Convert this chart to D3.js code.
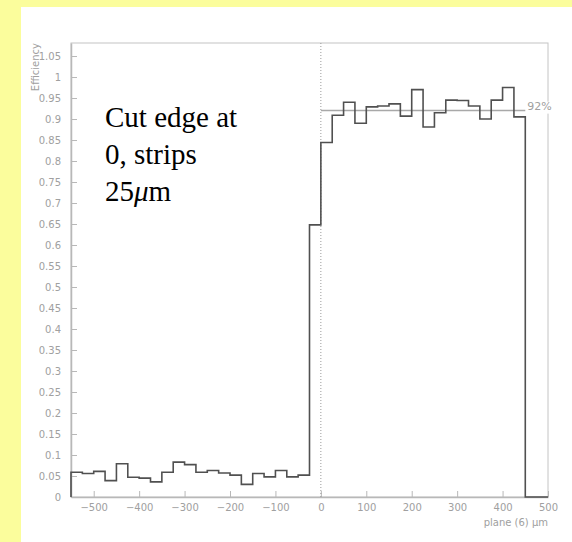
<!DOCTYPE html>
<html>
<head>
<meta charset="utf-8">
<script src="https://cdn.jsdelivr.net/npm/d3@7"></script>
<style>
  body { margin: 0; background: #fbfd9c; }
  svg { display: block; }
</style>
</head>
<body>
<div id="chart"></div>
<script>
// Histogram bins: lower edges (um), 25 um wide, and efficiency per bin.
const binStart = -550;
const binWidth = 25;
const efficiency = [
  0.059, 0.056, 0.061, 0.039, 0.079, 0.047, 0.045, 0.036, 0.059, 0.083,
  0.077, 0.059, 0.063, 0.057, 0.052, 0.030, 0.056, 0.048, 0.063, 0.048,
  0.052, 0.648,
  0.844, 0.909, 0.940, 0.890, 0.929, 0.931, 0.936, 0.907, 0.970, 0.881,
  0.915, 0.945, 0.944, 0.931, 0.900, 0.945, 0.975, 0.905,
  0, 0
];
const fitLevel = 0.92;
const fitRange = [0, 450];
const xTicks = [-500, -400, -300, -200, -100, 0, 100, 200, 300, 400, 500];
const yTicks = d3.range(0, 22).map(i => i * 0.05);
const noteLines = ["Cut edge at", "0, strips"];

const svgWidth = 572, svgHeight = 542;
const plot = { left: 71, right: 548, top: 43, bottom: 497 };

const svg = d3.select("#chart")
  .append("svg")
  .attr("width", svgWidth)
  .attr("height", svgHeight);

// white panel on the yellow page
svg.append("rect")
  .attr("x", 21).attr("y", 7)
  .attr("width", svgWidth - 21).attr("height", svgHeight - 7)
  .attr("fill", "#fff");

const x = d3.scaleLinear().domain([-550, 500]).range([plot.left, plot.right]);
const y = d3.scaleLinear().domain([0, 1.081]).range([plot.bottom, plot.top]);

// frame
svg.append("rect")
  .attr("x", plot.left).attr("y", plot.top)
  .attr("width", plot.right - plot.left).attr("height", plot.bottom - plot.top)
  .attr("fill", "none")
  .attr("stroke", "#c4c4c4")
  .attr("stroke-width", 1);

// axes, ticks pointing inwards
const xAxis = svg.append("g")
  .attr("transform", `translate(0, ${plot.bottom})`)
  .call(d3.axisBottom(x).tickValues(xTicks).tickSizeInner(-6).tickSizeOuter(0).tickPadding(7));

const yAxis = svg.append("g")
  .attr("transform", `translate(${plot.left}, 0)`)
  .call(d3.axisLeft(y).tickValues(yTicks).tickFormat(d => +d.toFixed(2))
    .tickSizeInner(-6).tickSizeOuter(0).tickPadding(10));

[xAxis, yAxis].forEach(g => {
  g.select(".domain").attr("stroke", "#b8b8b8").attr("stroke-width", 1.5);
  g.selectAll(".tick line").attr("stroke", "#b8b8b8");
  g.selectAll("text")
    .attr("fill", "#a0a0a0")
    .attr("font-family", "DejaVu Sans")
    .attr("font-size", "10px");
});

// dotted line at the cut edge
svg.append("line")
  .attr("x1", x(0)).attr("x2", x(0))
  .attr("y1", plot.top).attr("y2", plot.bottom)
  .attr("stroke", "#9a9a9a")
  .attr("stroke-width", 1)
  .attr("stroke-dasharray", "1,2");

// fitted plateau
svg.append("line")
  .attr("x1", x(fitRange[0])).attr("x2", x(fitRange[1]))
  .attr("y1", y(fitLevel)).attr("y2", y(fitLevel))
  .attr("stroke", "#a8a8a8")
  .attr("stroke-width", 1.5);

svg.append("rect")
  .attr("x", x(fitRange[1]) + 1).attr("y", y(fitLevel) - 9)
  .attr("width", 28).attr("height", 12)
  .attr("fill", "#fff");

svg.append("text")
  .attr("x", x(fitRange[1]) + 2)
  .attr("y", y(fitLevel) - 0.5)
  .attr("fill", "#a0a0a0")
  .attr("font-family", "DejaVu Sans")
  .attr("font-size", "11px")
  .text(Math.round(fitLevel * 100) + "%");

// histogram as a step line
const points = [[binStart, 0]];
efficiency.forEach((v, i) => points.push([binStart + i * binWidth, v]));
points.push([binStart + efficiency.length * binWidth, 0]);

const line = d3.line()
  .x(d => x(d[0]))
  .y(d => y(d[1]))
  .curve(d3.curveStepAfter);

svg.append("path")
  .datum(points)
  .attr("d", line)
  .attr("fill", "none")
  .attr("stroke", "#505050")
  .attr("stroke-width", 1.6);

// axis titles
svg.append("text")
  .attr("transform", `translate(39, ${plot.top}) rotate(-90)`)
  .attr("text-anchor", "end")
  .attr("fill", "#a0a0a0")
  .attr("font-family", "DejaVu Sans")
  .attr("font-size", "10px")
  .text("Efficiency");

svg.append("text")
  .attr("x", plot.right)
  .attr("y", 526)
  .attr("text-anchor", "end")
  .attr("fill", "#a0a0a0")
  .attr("font-family", "DejaVu Sans")
  .attr("font-size", "10px")
  .text("plane (6) \u03bcm");

// annotation
const note = svg.append("text")
  .attr("font-family", "Liberation Serif")
  .attr("font-size", "29px")
  .attr("fill", "#000");

noteLines.forEach((t, i) => {
  note.append("tspan").attr("x", 105).attr("y", 127 + i * 37).text(t);
});
const last = note.append("tspan").attr("x", 105).attr("y", 201);
last.append("tspan").text("25");
last.append("tspan").attr("font-style", "italic").text("\u03bc");
last.append("tspan").text("m");
</script>
</body>
</html>
